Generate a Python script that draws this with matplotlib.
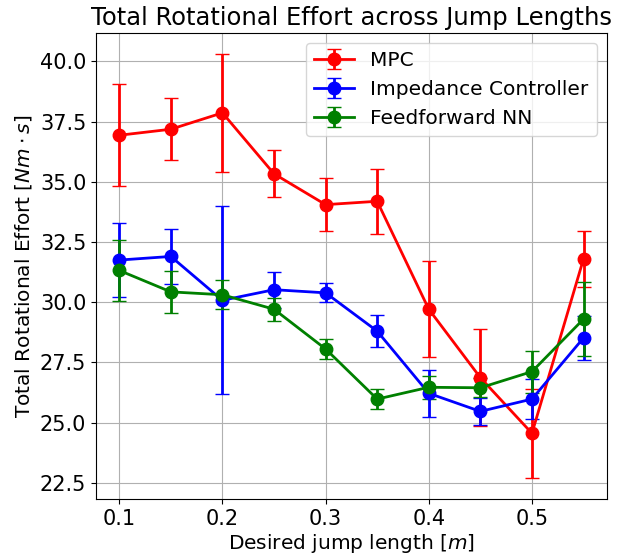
import matplotlib
matplotlib.use("Agg")
import matplotlib.pyplot as plt

# jump lengths [m]
jump_lengths = [0.1, 0.15, 0.2, 0.25, 0.3, 0.35, 0.4, 0.45, 0.5, 0.55]

# MPC
mpc_mean = [36.93, 37.18, 37.86, 35.33, 34.05, 34.19, 29.71, 26.87, 24.56, 31.80]
mpc_std = [2.12, 1.29, 2.44, 0.97, 1.10, 1.34, 2.00, 2.00, 1.85, 1.15]

# Impedance Controller
imp_mean = [31.75, 31.90, 30.08, 30.52, 30.39, 28.80, 26.22, 25.47, 25.98, 28.52]
imp_std = [1.55, 1.15, 3.90, 0.75, 0.40, 0.65, 0.98, 0.55, 0.82, 0.92]

# Feedforward NN
ffnn_mean = [31.32, 30.43, 30.31, 29.71, 28.06, 25.98, 26.47, 26.45, 27.12, 29.30]
ffnn_std = [1.27, 0.88, 0.60, 0.47, 0.42, 0.41, 0.48, 0.40, 0.87, 1.52]

fig = plt.figure(figsize=(6.36, 5.57), dpi=100)
ax = fig.add_axes([0.151, 0.104, 0.803, 0.837])

ax.errorbar(jump_lengths, mpc_mean, yerr=mpc_std, color='red', marker='o',
            markersize=9, linewidth=2, capsize=5, label='MPC')
ax.errorbar(jump_lengths, imp_mean, yerr=imp_std, color='blue', marker='o',
            markersize=9, linewidth=2, capsize=5, label='Impedance Controller')
ax.errorbar(jump_lengths, ffnn_mean, yerr=ffnn_std, color='green', marker='o',
            markersize=9, linewidth=2, capsize=5, label='Feedforward NN')

ax.set_title("Total Rotational Effort across Jump Lengths", fontsize=17.5)
ax.set_xlabel("Desired jump length [$m$]", fontsize=14.5, labelpad=2)
ax.set_ylabel(r"Total Rotational Effort [$Nm \cdot s$]", fontsize=14.5)
ax.tick_params(axis='both', labelsize=15)
ax.grid(True)
ax.legend(fontsize=14.5, loc='upper right')

fig.savefig("out.png", dpi=100)
